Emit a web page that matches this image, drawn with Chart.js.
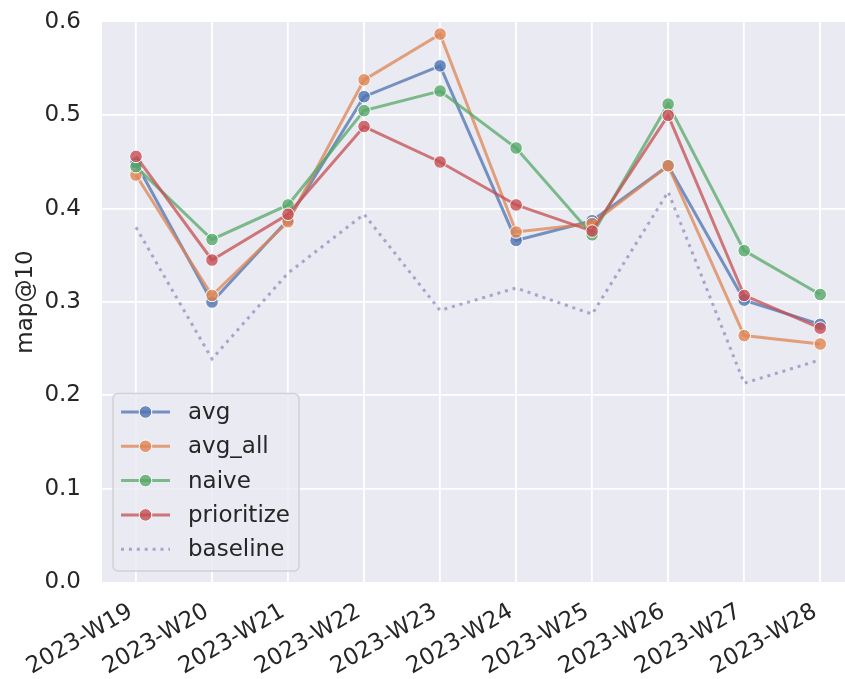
<!DOCTYPE html>
<html>
<head>
<meta charset="utf-8">
<script src="https://cdn.jsdelivr.net/npm/chart.js@4/dist/chart.umd.min.js"></script>
<style>
  body { margin: 0; background: #fff; }
  #wrap { width: 845px; height: 679px; }
</style>
</head>
<body>
<div id="wrap"><canvas id="grafico" width="845" height="679"></canvas></div>
<script>
const semanas = ["2023-W19", "2023-W20", "2023-W21", "2023-W22", "2023-W23",
                 "2023-W24", "2023-W25", "2023-W26", "2023-W27", "2023-W28"];
const yTicks = [0, 0.1, 0.2, 0.3, 0.4, 0.5, 0.6];

const avg        = [0.449, 0.300, 0.388, 0.520, 0.553, 0.366, 0.387, 0.446, 0.302, 0.276];
const avgAll     = [0.436, 0.307, 0.386, 0.538, 0.587, 0.375, 0.384, 0.446, 0.264, 0.255];
const naive      = [0.445, 0.367, 0.404, 0.505, 0.526, 0.465, 0.372, 0.512, 0.355, 0.308];
const prioritize = [0.456, 0.345, 0.394, 0.488, 0.450, 0.404, 0.376, 0.500, 0.307, 0.272];
const baseline   = [0.380, 0.239, 0.331, 0.394, 0.291, 0.315, 0.287, 0.418, 0.213, 0.238];

const texto = "#262626";
const fonte = "'DejaVu Sans', sans-serif";
const tamanho = 23;

function pontos(valores) {
    return valores.map((v, i) => ({ x: i, y: v }));
}

function serie(label, valores, rgb, ordem) {
    return {
        label: label,
        data: pontos(valores),
        borderColor: `rgba(${rgb},0.75)`,
        backgroundColor: `rgba(${rgb},0.8)`,
        borderWidth: 3,
        pointRadius: 6.3,
        pointBorderWidth: 1,
        pointBorderColor: "#ffffff",
        pointBackgroundColor: `rgba(${rgb},0.8)`,
        tension: 0,
        order: ordem
    };
}

const datasets = [
    serie("avg", avg, "76,114,176", 5),
    serie("avg_all", avgAll, "221,132,82", 4),
    serie("naive", naive, "85,168,104", 3),
    serie("prioritize", prioritize, "196,78,82", 2),
    {
        label: "baseline",
        data: pontos(baseline),
        borderColor: "rgba(129,114,179,0.6)",
        borderWidth: 3,
        borderDash: [3, 4.9],
        borderCapStyle: "butt",
        pointRadius: 0,
        tension: 0,
        order: 1
    }
];

// fundo cinza da área do gráfico
const fundo = {
    id: "fundo",
    beforeDraw(chart) {
        const { ctx, chartArea: a } = chart;
        ctx.save();
        ctx.fillStyle = "#eaeaf2";
        ctx.fillRect(a.left, a.top, a.right - a.left, a.bottom - a.top);
        ctx.restore();
    }
};

// legenda desenhada dentro da área, canto inferior esquerdo
const legenda = {
    id: "legenda",
    afterDraw(chart) {
        const { ctx, chartArea: a } = chart;
        const dsList = chart.data.datasets;
        ctx.save();
        ctx.font = `${tamanho}px ${fonte}`;
        const maxW = Math.max(...dsList.map(d => ctx.measureText(d.label).width));
        const linha = 34.3;
        const w = 8 + 49 + 18 + maxW + 9;
        const h = dsList.length * linha + 6;
        const x0 = a.left + 11;
        const y0 = a.bottom - 11 - h;

        ctx.beginPath();
        ctx.roundRect(x0, y0, w, h, 5);
        ctx.fillStyle = "rgba(234,234,242,0.8)";
        ctx.fill();
        ctx.lineWidth = 1.5;
        ctx.strokeStyle = "rgba(204,204,204,0.8)";
        ctx.stroke();

        dsList.forEach((d, i) => {
            const cy = y0 + 18.5 + i * linha;
            const hx0 = x0 + 8, hx1 = x0 + 57;
            ctx.save();
            ctx.strokeStyle = d.borderColor;
            ctx.lineWidth = d.borderWidth;
            ctx.lineCap = "butt";
            ctx.setLineDash(d.borderDash || []);
            ctx.beginPath();
            ctx.moveTo(hx0, cy);
            ctx.lineTo(hx1, cy);
            ctx.stroke();
            ctx.restore();
            if (d.pointRadius > 0) {
                ctx.beginPath();
                ctx.arc((hx0 + hx1) / 2, cy, d.pointRadius, 0, Math.PI * 2);
                ctx.fillStyle = d.pointBackgroundColor;
                ctx.fill();
                ctx.lineWidth = 1;
                ctx.strokeStyle = "#fff";
                ctx.stroke();
            }
            ctx.fillStyle = texto;
            ctx.textBaseline = "middle";
            ctx.textAlign = "left";
            ctx.fillText(d.label, hx1 + 18, cy + 1);
        });
        ctx.restore();
    }
};

const grafico = new Chart(document.getElementById("grafico").getContext("2d"), {
    type: "line",
    data: { datasets: datasets },
    options: {
        responsive: false,
        animation: false,
        devicePixelRatio: 1,
        layout: { autoPadding: false, padding: { top: 22, right: 0, bottom: 0, left: 0 } },
        plugins: {
            legend: { display: false },
            tooltip: { enabled: false }
        },
        scales: {
            x: {
                type: "linear",
                min: -0.447,
                max: 9.326,
                afterBuildTicks: (axis) => {
                    axis.ticks = semanas.map((_, i) => ({ value: i }));
                },
                afterFit: (scale) => {
                    scale.height = 97;
                    scale.paddingLeft = 0;
                    scale.paddingRight = 0;
                },
                border: { display: false },
                grid: { color: "#ffffff", lineWidth: 1.8, drawTicks: false },
                ticks: {
                    autoSkip: false,
                    maxRotation: 30,
                    minRotation: 30,
                    padding: 16,
                    labelOffset: -5,
                    color: texto,
                    font: { family: fonte, size: tamanho },
                    callback: (v) => semanas[v] ?? ""
                }
            },
            y: {
                min: 0,
                max: 0.6,
                afterBuildTicks: (axis) => {
                    axis.ticks = yTicks.map(v => ({ value: v }));
                },
                afterFit: (scale) => {
                    scale.width = 102;
                    scale.paddingTop = 0;
                    scale.paddingBottom = 0;
                },
                border: { display: false },
                grid: {
                    color: (c) => (c.index === 0 || c.index === yTicks.length - 1) ? "rgba(0,0,0,0)" : "#ffffff",
                    lineWidth: 1.8,
                    drawTicks: false
                },
                ticks: {
                    padding: 21,
                    color: texto,
                    font: { family: fonte, size: tamanho },
                    callback: (v) => v.toFixed(1)
                },
                title: {
                    display: true,
                    text: "map@10",
                    color: texto,
                    font: { family: fonte, size: tamanho },
                    padding: { top: 12, bottom: 0 }
                }
            }
        }
    },
    plugins: [fundo, legenda]
});
</script>
</body>
</html>
